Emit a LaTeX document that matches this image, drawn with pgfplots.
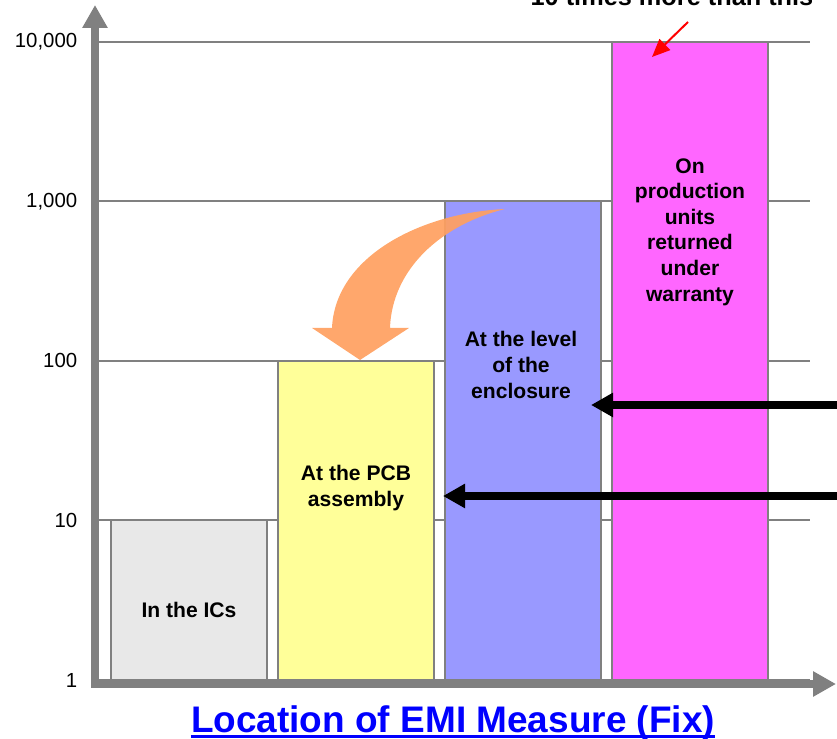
\documentclass[border=0pt]{standalone}
\usepackage{pgfplots}
\pgfplotsset{compat=1.18}
\usepackage{fontspec}
\setmainfont{Liberation Sans}
\usetikzlibrary{arrows.meta}
\definecolor{axgray}{HTML}{808080}
\definecolor{barA}{HTML}{E8E8E8}
\definecolor{barB}{HTML}{FFFF99}
\definecolor{barC}{HTML}{9999FF}
\definecolor{barD}{HTML}{FF66FF}
\definecolor{orangeA}{HTML}{FFA060}
\begin{document}
\begin{tikzpicture}[x=0.25mm,y=0.25mm]
\begin{axis}[
  at={(24.75mm,14.75mm)}, anchor=south west,
  scale only axis, width=177.75mm, height=159.5mm,
  ymode=log, ymin=1, ymax=10000,
  xmin=-0.54, xmax=3.72,
  clip=false,
  axis x line*=bottom, axis y line*=left,
  axis line style={draw=none},
  xtick=\empty,
  ytick={1,10,100,1000,10000},
  yminorticks=false,
  yticklabels={\mbox{1},\mbox{10},\mbox{100},\mbox{1,000},\mbox{10,000}},
  yticklabel style={font=\fontsize{14.5}{17}\selectfont, xshift=-4.2mm},
  major tick length=0pt,
  minor tick length=0pt,
  ymajorgrids,
  grid style={axgray, line width=0.5mm},
]
\addplot[ybar, bar shift=0pt, bar width=39mm, fill=barA, draw=axgray, line width=0.5mm] coordinates {(0,10)};
\addplot[ybar, bar shift=0pt, bar width=39mm, fill=barB, draw=axgray, line width=0.5mm] coordinates {(1,100)};
\addplot[ybar, bar shift=0pt, bar width=39mm, fill=barC, draw=axgray, line width=0.5mm] coordinates {(2,1000)};
\addplot[ybar, bar shift=0pt, bar width=39mm, fill=barD, draw=axgray, line width=0.5mm] coordinates {(3,10000)};
\end{axis}
% axes arrows
\draw[axgray, line width=2mm, -{Triangle[width=6mm,length=5.75mm]}] (95,51) -- (95,734);
\draw[axgray, line width=2mm, -{Triangle[width=6mm,length=5.75mm]}] (91,55) -- (836,55);
% bar texts
\begin{scope}[every node/.style={font=\bfseries\fontsize{15}{18.2}\selectfont, align=center}]
\node at (189,129) {In the ICs};
\node at (356,251) {At the PCB\\assembly};
\node at (521,374) {At the level\\of the\\enclosure};
\node at (690,507) {On\\production\\units\\returned\\under\\warranty};
\end{scope}
% orange curved arrow
\fill[orangeA, opacity=0.92] (505,530) .. controls (420,526) and (335,482) .. (332,411) -- (312,411) -- (360,379) -- (409,411) -- (390,411) .. controls (392,469) and (440,514) .. (505,530) -- cycle;
% black arrows
\draw[black, line width=1.9mm, -{Triangle[width=5.75mm,length=5.5mm]}] (840,334) -- (591,334);
\draw[black, line width=1.9mm, -{Triangle[width=5.75mm,length=5.5mm]}] (840,243) -- (443,243);
% red arrow and top text
\draw[red, line width=0.5mm, -{Triangle[width=3.8mm,length=4.5mm]}] (688,717) -- (652,682);
\node[anchor=base, inner sep=0pt, font=\bfseries\fontsize{18}{20}\selectfont] at (672,733) {10 times more than this};
% title
\node[anchor=base, inner sep=0pt, text=blue, font=\bfseries\fontsize{26.3}{30}\selectfont] (t) at (453,6) {Location of EMI Measure (Fix)};
\draw[blue, line width=0.75mm] ([yshift=-0.9mm]t.base west) -- ([yshift=-0.9mm]t.base east);
\pgfresetboundingbox
\useasboundingbox (0,0) rectangle (837,739);
\end{tikzpicture}
\end{document}
